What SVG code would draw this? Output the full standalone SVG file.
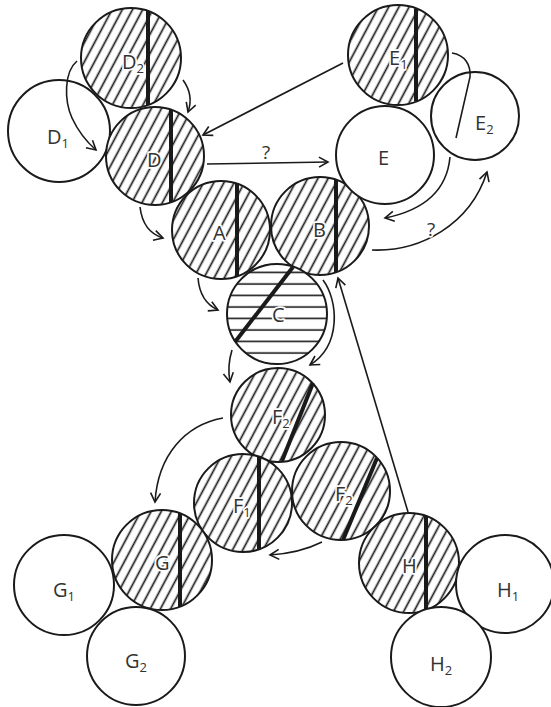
<svg xmlns="http://www.w3.org/2000/svg" width="551" height="707" viewBox="0 0 551 707">
<style>
.c{stroke:#1a1a1a;stroke-width:2;}
.w{fill:#fff;}
.h{fill:url(#diag);}
.hc{fill:url(#horiz);}
.t{stroke:#1a1a1a;stroke-width:4;stroke-linecap:butt;}
.lbl{font-family:"Open Sans","Noto Sans",sans-serif;font-size:20px;fill:#333;stroke:#fff;stroke-width:3.5;paint-order:stroke;stroke-linejoin:round;}
.sub{font-size:13px;}
.q{font-size:19px;}
.k{fill:none;stroke:#1a1a1a;stroke-width:1.6;}
.a{marker-end:url(#arr);}
</style>
<defs>
<pattern id="diag" width="9" height="9" patternUnits="userSpaceOnUse" patternTransform="rotate(-62)">
<rect width="9" height="9" fill="#fff"/>
<line x1="-1" y1="4.5" x2="10" y2="4.5" stroke="#1a1a1a" stroke-width="1.7"/>
</pattern>
<pattern id="horiz" width="11" height="11.5" patternUnits="userSpaceOnUse" patternTransform="translate(0,3)">
<rect width="11" height="11.5" fill="#fff"/>
<line x1="-1" y1="5" x2="12" y2="5" stroke="#1a1a1a" stroke-width="1.6"/>
</pattern>
<marker id="arr" markerWidth="14" markerHeight="14" refX="10" refY="5" orient="auto" markerUnits="userSpaceOnUse" overflow="visible">
<path d="M1,0 L10,5 L1,10" fill="none" stroke="#1a1a1a" stroke-width="1.6"/>
</marker>
</defs>
<rect width="551" height="707" fill="#fff"/>

<g id="D2"><circle class="c h" cx="131" cy="58" r="50"/><line class="t" x1="148" y1="11" x2="148" y2="105"/><text class="lbl" x="122" y="69">D<tspan class="sub" dy="4">2</tspan></text></g>
<g id="D1"><circle class="c w" cx="59" cy="131" r="51"/><text class="lbl" x="47" y="144">D<tspan class="sub" dy="4">1</tspan></text></g>
<g id="D"><circle class="c h" cx="155" cy="156" r="49"/><line class="t" x1="171" y1="110" x2="171" y2="202"/><text class="lbl" x="147" y="167">D</text></g>
<g id="A"><circle class="c h" cx="221" cy="230" r="49"/><line class="t" x1="237" y1="184" x2="237" y2="276"/><text class="lbl" x="213" y="240">A</text></g>
<g id="B"><circle class="c h" cx="320" cy="226" r="49"/><line class="t" x1="336" y1="180" x2="336" y2="272"/><text class="lbl" x="313" y="237">B</text></g>
<g id="E1"><circle class="c h" cx="398" cy="55" r="50"/><line class="t" x1="416" y1="8.5" x2="416" y2="101.5"/><text class="lbl" x="389" y="65">E<tspan class="sub" dy="4">1</tspan></text></g>
<g id="E2"><circle class="c w" cx="475" cy="116" r="44"/><text class="lbl" x="475" y="130">E<tspan class="sub" dy="4">2</tspan></text></g>
<g id="E"><circle class="c w" cx="385" cy="155" r="49"/><text class="lbl" x="378" y="165">E</text></g>
<g id="C"><circle class="c hc" cx="277" cy="314" r="50"/><line class="t" x1="293" y1="267" x2="235" y2="342"/><text class="lbl" x="272" y="322">C</text></g>
<g id="F2a"><circle class="c h" cx="278" cy="415" r="47"/><line class="t" x1="313" y1="383" x2="282" y2="461"/><text class="lbl" x="272" y="424">F<tspan class="sub" dy="4">2</tspan></text></g>
<g id="F1"><circle class="c h" cx="243" cy="503" r="49"/><line class="t" x1="259" y1="457" x2="259" y2="549"/><text class="lbl" x="233" y="513">F<tspan class="sub" dy="4">1</tspan></text></g>
<g id="F2b"><circle class="c h" cx="341" cy="491" r="49"/><line class="t" x1="377" y1="458" x2="343" y2="540"/><text class="lbl" x="335" y="501">F<tspan class="sub" dy="4">2</tspan></text></g>
<g id="H"><circle class="c h" cx="409" cy="563" r="50"/><line class="t" x1="426" y1="516" x2="426" y2="610"/><text class="lbl" x="402" y="573">H</text></g>
<g id="H1"><circle class="c w" cx="505" cy="584" r="49"/><text class="lbl" x="497" y="597">H<tspan class="sub" dy="4">1</tspan></text></g>
<g id="H2"><circle class="c w" cx="441" cy="657" r="50"/><text class="lbl" x="430" y="671">H<tspan class="sub" dy="4">2</tspan></text></g>
<g id="G"><circle class="c h" cx="162" cy="560" r="50"/><line class="t" x1="180" y1="513" x2="180" y2="607"/><text class="lbl" x="155" y="570">G</text></g>
<g id="G1"><circle class="c w" cx="64" cy="585" r="50"/><text class="lbl" x="53" y="597">G<tspan class="sub" dy="4">1</tspan></text></g>
<g id="G2"><circle class="c w" cx="136" cy="656" r="49"/><text class="lbl" x="125" y="668">G<tspan class="sub" dy="4">2</tspan></text></g>

<g id="connectors">
<path class="k a" d="M77,61 C64,72 64,100 72,118 C79,133 88,143 96,150"/>
<path class="k a" d="M183,80 Q194,95 188,112"/>
<path class="k a" d="M343,63 L203,135"/>
<path class="k a" d="M207,164 L328,162"/>
<path class="k a" d="M140,207 Q143,232 163,238"/>
<path class="k a" d="M450,157 C447,190 425,210 385,218"/>
<path class="k a" d="M372,250 C420,252 470,225 487,172"/>
<path class="k" d="M452,53 C465,55 471,65 470,77 L456,138"/>
<path class="k a" d="M198,278 Q200,302 218,310"/>
<path class="k a" d="M323,280 C338,300 342,345 310,365"/>
<path class="k a" d="M232,350 Q227,366 230,382"/>
<path class="k a" d="M408,512 L338,278"/>
<path class="k a" d="M223,418 C185,425 158,455 155,502"/>
<path class="k a" d="M322,542 Q300,553 270,555"/>
<text class="lbl q" x="262" y="159">?</text>
<text class="lbl q" x="427" y="236">?</text>
</g>
</svg>
